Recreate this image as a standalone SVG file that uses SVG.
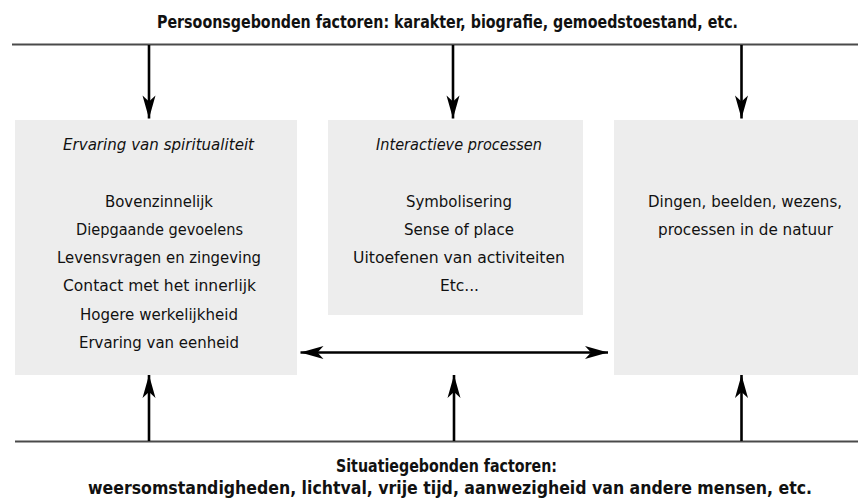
<svg xmlns="http://www.w3.org/2000/svg" width="858" height="504" viewBox="0 0 858 504">
<style>
  .box { fill: #ededed; }
  .t { font-family: "DejaVu Sans Condensed", "DejaVu Sans", sans-serif; font-size: 16.5px; fill: #111; text-anchor: middle; }
  .i { font-style: italic; }
  .b { font-weight: bold; font-size: 17.5px; }
  .rule { stroke: #4a4a4a; stroke-width: 2.2; fill: none; }
  .arr { stroke: #000; stroke-width: 2.6; fill: none; }
</style>
<defs>
  <marker id="ah" markerUnits="userSpaceOnUse" markerWidth="26" markerHeight="14" viewBox="-24 -7 26 14" refX="0" refY="0" orient="auto-start-reverse">
    <path d="M0,0 L-23,-6.5 L-17,0 L-23,6.5 Z" fill="#000"/>
  </marker>
</defs>

<g id="top-label">
  <text class="t b" x="447.5" y="28" textLength="581" lengthAdjust="spacingAndGlyphs">Persoonsgebonden factoren: karakter, biografie, gemoedstoestand, etc.</text>
</g>

<g id="box-spiritualiteit">
  <rect class="box" x="15" y="120" width="282" height="255"/>
  <text class="t i" x="158.5" y="150" textLength="191" lengthAdjust="spacingAndGlyphs">Ervaring van spiritualiteit</text>
  <text class="t" x="159" y="206.5" textLength="108" lengthAdjust="spacingAndGlyphs">Bovenzinnelijk</text>
  <text class="t" x="159.5" y="234.8" textLength="167" lengthAdjust="spacingAndGlyphs">Diepgaande gevoelens</text>
  <text class="t" x="159" y="263" textLength="204" lengthAdjust="spacingAndGlyphs">Levensvragen en zingeving</text>
  <text class="t" x="159.5" y="291.3" textLength="193" lengthAdjust="spacingAndGlyphs">Contact met het innerlijk</text>
  <text class="t" x="159" y="319.5" textLength="158" lengthAdjust="spacingAndGlyphs">Hogere werkelijkheid</text>
  <text class="t" x="159" y="347.7" textLength="160" lengthAdjust="spacingAndGlyphs">Ervaring van eenheid</text>
</g>

<g id="box-interactief">
  <rect class="box" x="328" y="120" width="255" height="195"/>
  <text class="t i" x="459" y="150" textLength="166" lengthAdjust="spacingAndGlyphs">Interactieve processen</text>
  <text class="t" x="459" y="206.5" textLength="106" lengthAdjust="spacingAndGlyphs">Symbolisering</text>
  <text class="t" x="459" y="234.8" textLength="110" lengthAdjust="spacingAndGlyphs">Sense of place</text>
  <text class="t" x="459" y="263" textLength="212" lengthAdjust="spacingAndGlyphs">Uitoefenen van activiteiten</text>
  <text class="t" x="459.5" y="291.3" textLength="39" lengthAdjust="spacingAndGlyphs">Etc...</text>
</g>

<g id="box-natuur">
  <rect class="box" x="614" y="120" width="244" height="255"/>
  <text class="t" x="745" y="206.5" textLength="194" lengthAdjust="spacingAndGlyphs">Dingen, beelden, wezens,</text>
  <text class="t" x="745.5" y="234.8" textLength="175" lengthAdjust="spacingAndGlyphs">processen in de natuur</text>
</g>

<g id="bottom-label">
  <text class="t b" x="446.5" y="472" textLength="221" lengthAdjust="spacingAndGlyphs">Situatiegebonden factoren:</text>
  <text class="t b" x="450" y="494" textLength="724" lengthAdjust="spacingAndGlyphs">weersomstandigheden, lichtval, vrije tijd, aanwezigheid van andere mensen, etc.</text>
</g>

<g id="connectors">
  <line class="rule" x1="12" y1="44.5" x2="858" y2="44.5"/>
  <line class="rule" x1="15" y1="441.5" x2="858" y2="441.5"/>
  <line class="arr" x1="149" y1="45" x2="149" y2="118.5" marker-end="url(#ah)"/>
  <line class="arr" x1="453" y1="45" x2="453" y2="118.5" marker-end="url(#ah)"/>
  <line class="arr" x1="741.5" y1="45" x2="741.5" y2="118.5" marker-end="url(#ah)"/>
  <line class="arr" x1="149" y1="441" x2="149" y2="375" marker-end="url(#ah)"/>
  <line class="arr" x1="454" y1="441" x2="454" y2="375" marker-end="url(#ah)"/>
  <line class="arr" x1="741.5" y1="441" x2="741.5" y2="375" marker-end="url(#ah)"/>
  <line class="arr" x1="300.5" y1="352.5" x2="608" y2="352.5" marker-start="url(#ah)" marker-end="url(#ah)"/>
</g>
</svg>
